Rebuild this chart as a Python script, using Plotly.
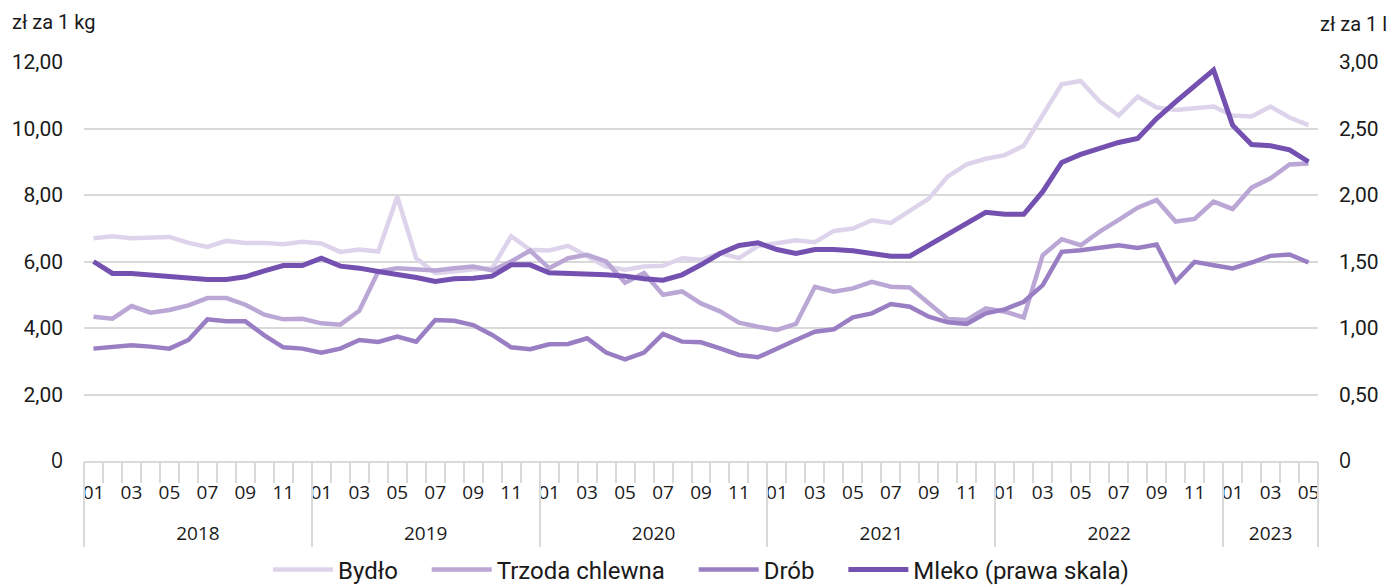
import plotly.graph_objects as go

# ---------------- data ----------------
years = ["2018", "2019", "2020", "2021", "2022", "2023"]
months_per_year = [12, 12, 12, 12, 12, 5]

bydlo = [6.70, 6.76, 6.70, 6.72, 6.74, 6.56, 6.44, 6.62, 6.56, 6.56, 6.52, 6.59,
         6.54, 6.29, 6.36, 6.30, 7.95, 6.10, 5.65, 5.70, 5.77, 5.80, 6.76, 6.35,
         6.33, 6.47, 6.15, 5.85, 5.75, 5.85, 5.87, 6.10, 6.05, 6.25, 6.10, 6.47,
         6.55, 6.64, 6.58, 6.92, 6.99, 7.24, 7.16, 7.54, 7.89, 8.56, 8.92, 9.09,
         9.20, 9.48, 10.41, 11.33, 11.43, 10.81, 10.39, 10.96, 10.63, 10.56, 10.61, 10.66,
         10.39, 10.36, 10.66, 10.33, 10.10]

trzoda = [4.34, 4.28, 4.66, 4.46, 4.54, 4.68, 4.90, 4.90, 4.70, 4.40, 4.26, 4.28,
          4.14, 4.10, 4.52, 5.70, 5.80, 5.75, 5.73, 5.80, 5.85, 5.73, 6.00, 6.33,
          5.80, 6.10, 6.20, 6.00, 5.36, 5.65, 5.00, 5.10, 4.74, 4.50, 4.16, 4.04,
          3.94, 4.12, 5.24, 5.09, 5.19, 5.39, 5.24, 5.22, 4.74, 4.27, 4.24, 4.59,
          4.49, 4.32, 6.19, 6.67, 6.49, 6.90, 7.25, 7.62, 7.85, 7.20, 7.28, 7.80,
          7.58, 8.22, 8.50, 8.92, 8.95]

drob = [3.38, 3.42, 3.48, 3.44, 3.38, 3.64, 4.26, 4.20, 4.20, 3.78, 3.42, 3.38,
        3.26, 3.38, 3.64, 3.58, 3.74, 3.59, 4.24, 4.22, 4.09, 3.79, 3.42, 3.36,
        3.51, 3.52, 3.69, 3.26, 3.06, 3.26, 3.82, 3.59, 3.57, 3.39, 3.19, 3.12,
        3.39, 3.64, 3.89, 3.96, 4.32, 4.44, 4.72, 4.64, 4.34, 4.17, 4.12, 4.44,
        4.56, 4.79, 5.29, 6.29, 6.34, 6.41, 6.49, 6.41, 6.51, 5.40, 5.99, 5.89,
        5.79, 5.97, 6.17, 6.21, 5.97]

mleko = [1.500, 1.410, 1.410, 1.400, 1.385, 1.375, 1.365, 1.365, 1.385, 1.430, 1.470, 1.470,
         1.525, 1.465, 1.450, 1.425, 1.405, 1.380, 1.350, 1.370, 1.375, 1.390, 1.475, 1.475,
         1.415, 1.410, 1.410, 1.400, 1.390, 1.370, 1.360, 1.400, 1.475, 1.560, 1.620, 1.640,
         1.590, 1.560, 1.590, 1.590, 1.580, 1.560, 1.540, 1.540, 1.620, 1.700, 1.790, 1.870,
         1.855, 1.855, 2.025, 2.245, 2.305, 2.350, 2.395, 2.425, 2.575, 2.700, 2.820, 2.940,
         2.525, 2.380, 2.370, 2.340, 2.250]

series_names = ["Bydło", "Trzoda chlewna", "Drób", "Mleko (prawa skala)"]

left_tickvals = [0, 2, 4, 6, 8, 10, 12]
left_ticktext = ["0", "2,00", "4,00", "6,00", "8,00", "10,00", "12,00"]
right_tickvals = [0, 0.5, 1.0, 1.5, 2.0, 2.5, 3.0]
right_ticktext = ["0", "0,50", "1,00", "1,50", "2,00", "2,50", "3,00"]

left_title = "zł za 1 kg"
right_title = "zł za 1 l"

# ---------------- derived ----------------
x = []
month_labels = []
k = 0
for n in months_per_year:
    for m in range(1, n + 1):
        x.append(k)
        month_labels.append(f"{m:02d}")
        k += 1
n_total = len(x)

month_tickvals = [i for i in x if int(month_labels[i]) % 2 == 1]
month_ticktext = [month_labels[i] for i in month_tickvals]
month_bounds = [i - 0.5 for i in range(n_total + 1)]

year_bounds = [-0.5]
year_centers = []
start = 0
for n in months_per_year:
    year_centers.append(start + (n - 1) / 2)
    start += n
    year_bounds.append(start - 0.5)

MAIN = "Roboto, sans-serif"
OPEN = "Open Sans, Noto Sans, sans-serif"
GRID = "#d9d9d9"
TXT = "#1a1a1a"
PAD = "\u00a0" * 4   # spacing after legend entries

def zero_fix(lst):
    return [f"<span style='font-family:Open Sans'>{t}</span>" if t == "0" else t for t in lst]

colors = ["#DDD4EB", "#BBA7D6", "#9A7EC4", "#7451B0"]
widths = [4.5, 4.5, 4.5, 5]

fig = go.Figure()
for name, vals, c, w in zip(series_names[:3], [bydlo, trzoda, drob], colors[:3], widths[:3]):
    fig.add_trace(go.Scatter(x=x, y=vals, name=name + PAD, mode="lines",
                             line=dict(color=c, width=w), xaxis="x", yaxis="y"))
fig.add_trace(go.Scatter(x=x, y=mleko, name=series_names[3], mode="lines",
                         line=dict(color=colors[3], width=widths[3]), xaxis="x", yaxis="y2"))

xr = [-0.5, n_total - 0.5]

fig.update_layout(
    width=1391, height=585,
    margin=dict(l=84, r=73, t=62, b=124, autoexpand=False),
    paper_bgcolor="white", plot_bgcolor="white",
    showlegend=True,
    legend=dict(orientation="h", x=0.5, xanchor="center", xref="paper",
                y=-(570 - 461) / 399, yanchor="middle", yref="paper",
                font=dict(family=MAIN, size=24, color=TXT), itemwidth=60,
                tracegroupgap=0),
    xaxis=dict(range=xr, tickmode="array", tickvals=month_tickvals, ticktext=month_ticktext,
               ticks="", showgrid=False, zeroline=False, showline=True, linecolor=GRID,
               linewidth=2, tickfont=dict(family=OPEN, size=19, color=TXT),
               ticklabelstandoff=13,
               minor=dict(tickmode="array", tickvals=month_bounds, ticks="outside",
                          ticklen=20, tickcolor=GRID, tickwidth=1.5, showgrid=False)),
    xaxis2=dict(range=xr, overlaying="x", side="bottom", anchor="y", tickmode="array",
                tickvals=year_centers, ticktext=years, ticks="", showgrid=False,
                zeroline=False, showline=False,
                tickfont=dict(family=OPEN, size=19, color=TXT),
                ticklabelstandoff=59,
                minor=dict(tickmode="array", tickvals=year_bounds, ticks="outside",
                           ticklen=85, tickcolor=GRID, tickwidth=1.5, showgrid=False)),
    yaxis=dict(range=[0, 12], tickmode="array", tickvals=left_tickvals,
               ticktext=zero_fix(left_ticktext), showgrid=True, gridcolor=GRID, gridwidth=2,
               zeroline=False, ticks="", tickfont=dict(family=MAIN, size=21, color=TXT),
               ticklabelstandoff=20),
    yaxis2=dict(range=[0, 3], overlaying="y", side="right", tickmode="array",
                tickvals=right_tickvals, ticktext=zero_fix(right_ticktext), showgrid=False,
                zeroline=False, ticks="", tickfont=dict(family=MAIN, size=21, color=TXT),
                ticklabelstandoff=20),
    annotations=[
        dict(text=left_title, xref="paper", yref="paper", x=-74 / 1234, y=(461 - 22) / 399,
             xanchor="left", yanchor="middle", showarrow=False,
             font=dict(family=MAIN, size=20, color=TXT)),
        dict(text=right_title, xref="paper", yref="paper", x=1.0, y=(461 - 24) / 399,
             xanchor="left", yanchor="middle", showarrow=False,
             font=dict(family=MAIN, size=20, color=TXT)),
    ],
)

# invisible trace so the year axis is rendered
fig.add_trace(go.Scatter(x=[xr[0]], y=[None], xaxis="x2", yaxis="y", showlegend=False,
                         hoverinfo="skip", mode="lines"))

fig.write_html("out.html", config={"displayModeBar": False},
               post_script="document.body.style.margin='0px';")
